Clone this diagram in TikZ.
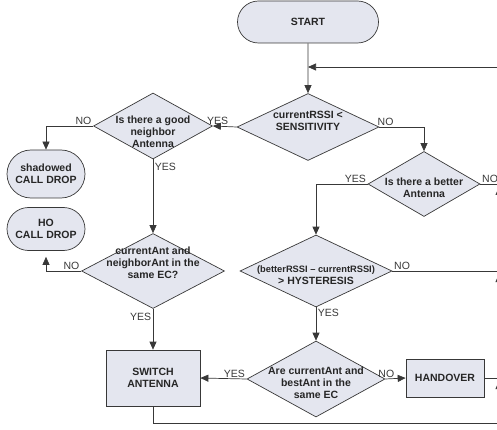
\documentclass[tikz,border=0pt]{standalone}
\usepackage{fontspec}
\setmainfont{Liberation Sans}
\usetikzlibrary{shapes.geometric,shapes.misc,arrows.meta}
\definecolor{boxfill}{HTML}{E4E6EF}
\definecolor{edge}{HTML}{383838}
% text of a diamond, kept out of the shape size, #1 moves it up/down
\newcommand{\dtext}[2][0pt]{\smash{\makebox[0pt]{\raisebox{\dimexpr#1-2.7pt\relax}{\begin{tabular}{@{}c@{}}#2\end{tabular}}}}}
\begin{document}
\begin{tikzpicture}[x=1pt, y=-1pt, >={Triangle[length=8pt,width=7pt]},
    every node/.style={font=\fontsize{10.5}{11.7}\selectfont\bfseries, text=black!85, align=center},
    term/.style={draw=edge, fill=boxfill, line width=0.7pt, rounded rectangle, inner sep=0pt},
    decision/.style={draw=edge, fill=boxfill, line width=0.7pt, diamond, inner sep=0pt},
    process/.style={draw=edge, fill=boxfill, line width=0.7pt, rectangle, inner sep=0pt},
    flow/.style={->, draw=edge, line width=0.7pt},
    lbl/.style={font=\fontsize{10.5}{12}\selectfont, text=edge, inner sep=1.5pt}]
\useasboundingbox (0,0) rectangle (497,430);
\node[term, minimum width=141pt, minimum height=42pt] (start) at (308,22) {START};
\node[decision, minimum width=142pt, minimum height=67pt] (sens) at (308,127) {\dtext[5pt]{currentRSSI <\\SENSITIVITY}};
\node[decision, minimum width=119pt, minimum height=66pt] (good) at (153,126) {\dtext[-7pt]{Is there a good\\neighbor\\Antenna}};
\node[term, minimum width=78pt, minimum height=48pt] (shadow) at (46,174) {shadowed\\CALL DROP};
\node[term, minimum width=78pt, minimum height=43pt] (ho) at (46,229) {HO\\CALL DROP};
\node[decision, minimum width=143pt, minimum height=75pt] (neigh) at (153,271) {\dtext[7pt]{currentAnt and\\neighborAnt in the\\same EC?}};
\node[process, minimum width=94pt, minimum height=56pt] (switch) at (153,378) {SWITCH\\ANTENNA};
\node[decision, minimum width=112pt, minimum height=65pt] (better) at (424,184) {\dtext[-5pt]{Is there a better\\Antenna}};
\node[decision, minimum width=152pt, minimum height=72pt] (hyst) at (316,271) {\dtext[-5pt]{{\fontsize{9.3}{11.7}\selectfont(betterRSSI -- currentRSSI)}\\> HYSTERESIS}};
\node[decision, minimum width=138pt, minimum height=76pt] (same) at (316,379) {\dtext[-5pt]{Are currentAnt and\\bestAnt in the\\same EC}};
\node[process, minimum width=78pt, minimum height=38pt] (handover) at (445,378) {HANDOVER};

% loose ends at the right border
\coordinate (rTop) at (499,67);
\coordinate (rBetter) at (499,184);
\coordinate (rHyst) at (499,271);
\coordinate (rHand) at (499,378);
\coordinate (rBot) at (499,423);

\draw[flow] (start) -- (sens);
\draw[flow] (sens.west) -- node[lbl, above, pos=0.8]{YES} (good.east);
\draw[flow] (sens.east) -| node[lbl, above, pos=0.07]{NO} (better.north);
\draw[flow] (good.west) -| node[lbl, above left, pos=0]{NO} (shadow.north);
\draw[flow] (good.south) -- node[lbl, right, pos=0.1]{YES} (neigh.north);
\draw[flow, shorten >=6pt] (neigh.west) -| node[lbl, above left, pos=0]{NO} (ho.south);
\draw[flow] (neigh.south) -- node[lbl, left, pos=0.2]{YES} (switch.north);
\draw[flow] (better.west) -| node[lbl, above left, pos=0]{YES} (hyst.north);
\draw[draw=edge, line width=0.7pt] (better.east) -- node[lbl, above right, pos=0]{NO} (rBetter);
\draw[draw=edge, line width=0.7pt] (hyst.east) -- node[lbl, above right, pos=0]{NO} (rHyst);
\draw[flow] (hyst.south) -- node[lbl, right, pos=0.18]{YES} (same.north);
\draw[flow] (same.west) -- node[lbl, above left, pos=0]{YES} (switch.east);
\draw[flow] (same.east) -- node[lbl, above, pos=0.05]{NO} (handover.west);
\draw[draw=edge, line width=0.7pt] (handover.east) -- (rHand);
\draw[draw=edge, line width=0.7pt] (switch.south) |- (rBot);

% back up to the loop
\draw[flow] (rBot) -- ([yshift=-3pt]rHand);
\draw[flow] (rHand) -- ([yshift=-3pt]rHyst);
\draw[flow] (rHyst) -- ([yshift=-3pt]rBetter);
\draw[flow] (rBetter) -- (rTop) -- (rTop -| start);
\end{tikzpicture}
\end{document}
